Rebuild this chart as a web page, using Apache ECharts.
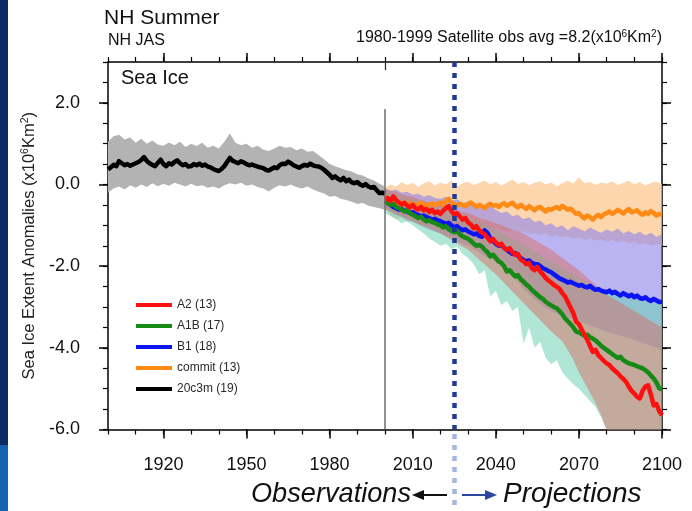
<!DOCTYPE html>
<html>
<head>
<meta charset="utf-8">
<script src="https://cdn.jsdelivr.net/npm/echarts@6/dist/echarts.min.js"></script>
<style>
  html, body { margin: 0; padding: 0; background: #fff; }
  #chart { width: 692px; height: 511px; }
</style>
</head>
<body>
<div id="chart"></div>
<script>
const FONT = 'Liberation Sans, Arial, Helvetica, sans-serif';

// Axis ticks / labels
const majorYears = [1920, 1950, 1980, 2010, 2040, 2070, 2100];
const majorAnoms = [-6, -4, -2, 0, 2];

// Legend entries
const nameA2 = 'A2 (13)';
const nameA1B = 'A1B (17)';
const nameB1 = 'B1 (18)';
const nameCommit = 'commit (13)';
const nameHist = '20c3m (19)';

// Years (annual for ensemble means, every 2 years for model spread)
function yearRange(a, b, step) { const out = []; for (let y = a; y <= b; y += step) out.push(y); return out; }
const histYears = yearRange(1900, 2000, 1);
const histBandYears = yearRange(1900, 2000, 2);
const projYears = yearRange(2000, 2100, 1);
const projBandYears = yearRange(2000, 2100, 2);

// 20th century ensemble mean (20c3m), 1900-2000
const histMean = [
  0.37, 0.42, 0.48, 0.45, 0.57, 0.52, 0.47, 0.50, 0.46, 0.49,
  0.52, 0.55, 0.60, 0.67, 0.58, 0.52, 0.48, 0.45, 0.53, 0.61,
  0.50, 0.45, 0.52, 0.49, 0.55, 0.59, 0.52, 0.47, 0.50, 0.44,
  0.45, 0.50, 0.47, 0.51, 0.46, 0.49, 0.44, 0.42, 0.38, 0.35,
  0.33, 0.38, 0.45, 0.55, 0.65, 0.58, 0.55, 0.52, 0.57, 0.54,
  0.50, 0.47, 0.49, 0.46, 0.44, 0.42, 0.40, 0.36, 0.34, 0.38,
  0.42, 0.40, 0.47, 0.51, 0.50, 0.56, 0.52, 0.47, 0.44, 0.41,
  0.45, 0.48, 0.46, 0.51, 0.47, 0.45, 0.44, 0.41, 0.36, 0.30,
  0.24, 0.16, 0.20, 0.14, 0.10, 0.16, 0.08, 0.12, 0.05, 0.03,
  0.06, 0.00, -0.03, 0.01, -0.05, -0.08, -0.06, -0.14, -0.21, -0.20,
  -0.22
];
// 20c3m model spread (every 2 years)
const histHi = [
  1.05, 1.18, 1.22, 1.10, 1.15, 1.02, 1.12, 1.00, 1.08, 0.98,
  0.95, 1.03, 0.96, 1.05, 0.92, 1.00, 0.94, 1.02, 0.90, 0.95,
  0.88, 1.05, 1.25, 1.02, 0.96, 1.00, 0.90, 0.95, 0.86, 0.82,
  0.88, 0.95, 0.90, 0.92, 0.84, 0.88, 0.80, 0.82, 0.72, 0.62,
  0.50, 0.45, 0.40, 0.35, 0.32, 0.25, 0.22, 0.15, 0.10, 0.02,
  -0.05
];
const histLo = [
  -0.20, -0.10, -0.05, -0.12, -0.02, -0.08, 0.00, -0.06, 0.03, -0.04,
  0.02, -0.03, 0.04, 0.00, -0.05, 0.02, -0.04, -0.02, -0.08, -0.05,
  -0.10, -0.02, 0.03, 0.00, 0.04, -0.03, 0.00, -0.06, -0.10, -0.17,
  -0.08, -0.02, -0.05, 0.00, -0.06, -0.10, -0.05, -0.12, -0.18, -0.22,
  -0.30, -0.28, -0.35, -0.38, -0.42, -0.48, -0.45, -0.52, -0.55, -0.58,
  -0.62
];

// Scenario ensemble means, 2000-2100
const commitMean = [
  -0.30, -0.36, -0.40, -0.38, -0.45, -0.42, -0.48, -0.44, -0.50, -0.46,
  -0.47, -0.52, -0.49, -0.45, -0.50, -0.55, -0.48, -0.46, -0.51, -0.47,
  -0.44, -0.50, -0.40, -0.35, -0.45, -0.49, -0.52, -0.47, -0.50, -0.53,
  -0.48, -0.44, -0.49, -0.55, -0.50, -0.53, -0.58, -0.51, -0.47, -0.52,
  -0.50, -0.55, -0.49, -0.46, -0.52, -0.48, -0.45, -0.52, -0.56, -0.50,
  -0.55, -0.60, -0.53, -0.58, -0.63, -0.57, -0.55, -0.61, -0.66, -0.60,
  -0.62, -0.58, -0.55, -0.60, -0.52, -0.57, -0.62, -0.59, -0.65, -0.72,
  -0.70, -0.78, -0.83, -0.76, -0.80, -0.86, -0.79, -0.74, -0.80, -0.73,
  -0.70, -0.66, -0.72, -0.68, -0.62, -0.66, -0.71, -0.65, -0.60, -0.68,
  -0.66, -0.63, -0.70, -0.74, -0.68, -0.72, -0.65, -0.70, -0.76, -0.72,
  -0.74
];
const b1Mean = [
  -0.41, -0.45, -0.50, -0.55, -0.58, -0.61, -0.60, -0.64, -0.66, -0.70,
  -0.68, -0.72, -0.75, -0.78, -0.76, -0.80, -0.83, -0.86, -0.84, -0.88,
  -0.90, -0.93, -0.96, -0.94, -1.00, -1.05, -1.02, -1.08, -1.12, -1.10,
  -1.15, -1.18, -1.22, -1.20, -1.26, -1.28, -1.12, -1.19, -1.32, -1.38,
  -1.45, -1.50, -1.48, -1.55, -1.60, -1.65, -1.70, -1.68, -1.75, -1.80,
  -1.85, -1.88, -1.86, -1.92, -1.95, -1.95, -2.00, -2.05, -2.08, -2.12,
  -2.15, -2.20, -2.25, -2.30, -2.33, -2.36, -2.40, -2.38, -2.42, -2.45,
  -2.48, -2.46, -2.50, -2.52, -2.48, -2.54, -2.58, -2.56, -2.60, -2.62,
  -2.64, -2.60, -2.66, -2.63, -2.68, -2.72, -2.66, -2.70, -2.74, -2.70,
  -2.76, -2.72, -2.78, -2.80, -2.76, -2.82, -2.85, -2.80, -2.84, -2.88,
  -2.87
];
const a1bMean = [
  -0.41, -0.45, -0.50, -0.47, -0.55, -0.58, -0.61, -0.66, -0.63, -0.70,
  -0.74, -0.78, -0.82, -0.79, -0.86, -0.90, -0.87, -0.92, -0.94, -0.98,
  -1.00, -1.05, -1.02, -1.10, -1.14, -1.17, -1.13, -1.22, -1.27, -1.30,
  -1.33, -1.38, -1.45, -1.50, -1.48, -1.52, -1.60, -1.66, -1.76, -1.72,
  -1.80, -1.88, -1.92, -2.00, -2.13, -2.10, -2.18, -2.25, -2.22, -2.32,
  -2.38, -2.45, -2.50, -2.58, -2.64, -2.70, -2.76, -2.80, -2.87, -2.92,
  -2.96, -3.00, -3.03, -3.10, -3.18, -3.28, -3.35, -3.42, -3.50, -3.60,
  -3.62, -3.66, -3.70, -3.68, -3.74, -3.77, -3.82, -3.88, -3.95, -4.00,
  -4.05, -4.10, -4.15, -4.20, -4.25, -4.22, -4.30, -4.34, -4.38, -4.40,
  -4.42, -4.45, -4.48, -4.50, -4.55, -4.60, -4.68, -4.75, -4.85, -4.99,
  -5.02
];
const a2Mean = [
  -0.37, -0.33, -0.40, -0.29, -0.38, -0.44, -0.49, -0.45, -0.52, -0.56,
  -0.50, -0.58, -0.61, -0.55, -0.63, -0.60, -0.67, -0.62, -0.70, -0.66,
  -0.72, -0.64, -0.58, -0.53, -0.65, -0.74, -0.70, -0.78, -0.86, -0.82,
  -0.93, -0.98, -1.07, -1.02, -1.12, -1.18, -1.22, -1.30, -1.39, -1.33,
  -1.42, -1.48, -1.45, -1.55, -1.60, -1.56, -1.66, -1.72, -1.70, -1.84,
  -1.88, -1.95, -1.92, -2.05, -2.10, -2.02, -2.13, -2.20, -2.29, -2.35,
  -2.40, -2.46, -2.50, -2.56, -2.66, -2.74, -2.88, -3.02, -3.15, -3.36,
  -3.42, -3.55, -3.68, -3.80, -3.95, -4.10, -4.05, -4.18, -4.25, -4.32,
  -4.38, -4.42, -4.50, -4.56, -4.62, -4.70, -4.76, -4.83, -4.95, -5.05,
  -5.12, -5.20, -5.24, -5.05, -4.95, -4.92, -5.15, -5.41, -5.38, -5.55,
  -5.65
];

// Scenario model spread (every 2 years, 2000-2100)
const commitHi = [
  -0.08, 0.00, -0.05, 0.06, -0.02, 0.04, -0.06, 0.03, 0.08, -0.03,
  0.05, 0.00, 0.09, -0.04, 0.03, 0.07, -0.02, 0.04, 0.10, 0.00,
  0.06, -0.03, 0.05, 0.12, 0.01, 0.06, -0.02, 0.04, 0.08, 0.00,
  0.05, -0.04, 0.03, 0.09, 0.02, 0.18, 0.03, 0.07, -0.01, 0.05,
  0.02, 0.08, -0.02, 0.04, 0.09, 0.00, 0.06, -0.03, 0.04, 0.07,
  0.02
];
const commitLo = [
  -0.60, -0.75, -0.85, -0.80, -0.92, -0.88, -0.98, -0.95, -1.02, -0.96,
  -1.05, -1.00, -1.08, -1.03, -1.10, -1.05, -1.12, -1.08, -1.02, -1.10,
  -1.06, -1.12, -1.15, -1.10, -1.18, -1.14, -1.22, -1.18, -1.25, -1.20,
  -1.28, -1.24, -1.30, -1.26, -1.33, -1.30, -1.36, -1.32, -1.38, -1.34,
  -1.40, -1.36, -1.42, -1.38, -1.45, -1.40, -1.47, -1.43, -1.50, -1.46,
  -1.50
];
const b1Hi = [
  -0.10, -0.15, -0.12, -0.20, -0.18, -0.25, -0.22, -0.30, -0.26, -0.33,
  -0.35, -0.30, -0.40, -0.36, -0.45, -0.42, -0.50, -0.46, -0.55, -0.52,
  -0.62, -0.70, -0.66, -0.78, -0.74, -0.85, -0.80, -0.92, -0.88, -1.00,
  -0.95, -1.05, -1.00, -1.12, -1.02, -1.08, -1.15, -1.05, -1.12, -1.18,
  -1.10, -1.16, -1.08, -1.20, -1.14, -1.22, -1.16, -1.25, -1.18, -1.28,
  -1.22
];
const b1Lo = [
  -0.60, -0.68, -0.75, -0.80, -0.88, -0.92, -0.98, -1.05, -1.10, -1.15,
  -1.20, -1.26, -1.30, -1.38, -1.45, -1.50, -1.58, -1.66, -1.75, -1.82,
  -1.90, -2.02, -2.12, -2.25, -2.38, -2.55, -2.68, -2.80, -2.92, -3.02,
  -3.10, -3.15, -3.20, -3.26, -3.30, -3.35, -3.40, -3.45, -3.50, -3.55,
  -3.60, -3.64, -3.68, -3.72, -3.76, -3.80, -3.86, -3.90, -3.95, -4.00,
  -4.05
];
const a1bHi = [
  -0.15, -0.20, -0.24, -0.28, -0.33, -0.36, -0.40, -0.44, -0.48, -0.52,
  -0.55, -0.60, -0.64, -0.70, -0.75, -0.80, -0.86, -0.92, -0.98, -1.04,
  -1.10, -1.18, -1.25, -1.32, -1.40, -1.48, -1.56, -1.64, -1.72, -1.80,
  -1.88, -1.96, -2.04, -2.12, -2.20, -2.28, -2.36, -2.44, -2.52, -2.58,
  -2.62, -2.66, -2.70, -2.74, -2.78, -2.80, -2.83, -2.86, -2.88, -2.90,
  -2.92
];
const a1bLo = [
  -0.70, -0.78, -0.85, -0.95, -0.90, -1.00, -1.10, -1.20, -1.32, -1.40,
  -1.50, -1.45, -1.58, -1.52, -1.70, -1.80, -1.95, -2.20, -2.10, -2.75,
  -2.60, -2.95, -2.85, -3.10, -3.00, -3.90, -3.50, -4.00, -3.85, -4.25,
  -4.40, -4.30, -4.60, -4.75, -4.90, -5.00, -5.15, -5.30, -5.45, -5.70,
  -6.00, -6.00, -6.00, -6.00, -6.00, -6.00, -6.00, -6.00, -6.00, -6.00,
  -6.00
];
const a2Hi = [
  -0.10, -0.15, -0.18, -0.24, -0.28, -0.30, -0.36, -0.40, -0.45, -0.48,
  -0.50, -0.55, -0.58, -0.64, -0.68, -0.70, -0.76, -0.82, -0.86, -0.90,
  -0.95, -1.00, -1.05, -1.10, -1.15, -1.20, -1.28, -1.36, -1.44, -1.52,
  -1.60, -1.70, -1.80, -1.90, -2.00, -2.10, -2.22, -2.34, -2.46, -2.58,
  -2.70, -2.78, -2.86, -2.94, -3.02, -3.10, -3.18, -3.26, -3.34, -3.42,
  -3.50
];
const a2Lo = [
  -0.60, -0.66, -0.72, -0.78, -0.84, -0.90, -0.96, -1.02, -1.08, -1.14,
  -1.20, -1.28, -1.36, -1.44, -1.52, -1.60, -1.72, -1.84, -1.96, -2.08,
  -2.20, -2.34, -2.48, -2.62, -2.76, -2.90, -3.04, -3.18, -3.32, -3.46,
  -3.60, -3.72, -3.84, -4.05, -4.30, -4.60, -4.85, -5.10, -5.35, -5.65,
  -6.00, -6.00, -6.00, -6.00, -6.00, -6.00, -6.00, -6.00, -6.00, -6.00,
  -6.00
];

const chart = echarts.init(document.getElementById('chart'), null, { renderer: 'canvas' });

// Shaded model spread: one polygon running along the upper edge and back along the lower edge
function spread(name, years, hi, lo, fill, z) {
  return {
    type: 'custom',
    name: name,
    silent: true,
    z: z,
    data: years.map((y, i) => [y, hi[i], lo[i]]),
    encode: { x: 0, y: [1, 2] },
    renderItem: function (params, api) {
      if (params.dataIndex !== 0) return null;
      const pts = [];
      for (let i = 0; i < years.length; i++) pts.push(api.coord([years[i], hi[i]]));
      for (let i = years.length - 1; i >= 0; i--) pts.push(api.coord([years[i], lo[i]]));
      return { type: 'polygon', shape: { points: pts }, style: { fill: fill } };
    }
  };
}

function meanLine(name, years, vals, color, width, z, extra) {
  return Object.assign({
    type: 'line',
    name: name,
    data: years.map((y, i) => [y, vals[i]]),
    showSymbol: false,
    symbol: 'none',
    z: z,
    itemStyle: { color: color },
    lineStyle: { color: color, width: width, join: 'round' }
  }, extra || {});
}

const black = '#000';
const axisLineStyle = { color: black, width: 1.5 };

const xBase = { type: 'value', min: 1900, max: 2100, splitLine: { show: false } };
const yBase = { type: 'value', min: -6, max: 3, splitLine: { show: false } };

// superscript style for unit strings
const supStyle = { fontSize: 10, verticalAlign: 'top', lineHeight: 10, fontFamily: FONT, fill: '#111', color: '#222' };

const option = {
  animation: false,
  backgroundColor: '#fff',
  grid: { left: 108, right: 30, top: 62, bottom: 81.5 },
  xAxis: [
    Object.assign({}, xBase, {
      position: 'bottom',
      axisLine: { show: true, onZero: false, lineStyle: axisLineStyle },
      axisTick: { show: true, customValues: majorYears, length: 9, lineStyle: { color: black, width: 1.5 } },
      axisLabel: { show: true, customValues: majorYears, margin: 27, fontSize: 18, color: '#111', fontFamily: FONT,
                   formatter: v => String(v) }
    }),
    Object.assign({}, xBase, {
      position: 'bottom', interval: 10,
      axisLine: { show: false, onZero: false },
      axisTick: { show: true, length: 5, lineStyle: { color: black, width: 1.2 } },
      axisLabel: { show: false }
    }),
    Object.assign({}, xBase, {
      position: 'top',
      axisLine: { show: true, onZero: false, lineStyle: axisLineStyle },
      axisTick: { show: true, customValues: majorYears, length: 9, lineStyle: { color: black, width: 1.5 } },
      axisLabel: { show: false }
    }),
    Object.assign({}, xBase, {
      position: 'top', interval: 10,
      axisLine: { show: false, onZero: false },
      axisTick: { show: true, length: 5, lineStyle: { color: black, width: 1.2 } },
      axisLabel: { show: false }
    })
  ],
  yAxis: [
    Object.assign({}, yBase, {
      position: 'left',
      name: 'Sea Ice Extent Anomalies (x10{sup|6}Km{sup|2})',
      nameLocation: 'middle',
      nameGap: 60,
      nameTextStyle: { fontSize: 16.5, lineHeight: 18, color: '#222', fontFamily: FONT,
                       rich: { sup: { fontSize: 10.5, lineHeight: 10, verticalAlign: 'top', color: '#222', fontFamily: FONT } } },
      axisLine: { show: true, onZero: false, lineStyle: axisLineStyle },
      axisTick: { show: true, customValues: majorAnoms, length: 9, lineStyle: { color: black, width: 1.5 } },
      axisLabel: { show: true, customValues: majorAnoms, margin: 28, fontSize: 18, color: '#111', fontFamily: FONT,
                   formatter: v => Number(v).toFixed(1) }
    }),
    Object.assign({}, yBase, {
      position: 'left', interval: 0.5,
      axisLine: { show: false, onZero: false },
      axisTick: { show: true, length: 5, lineStyle: { color: black, width: 1.2 } },
      axisLabel: { show: false }
    }),
    Object.assign({}, yBase, {
      position: 'right',
      axisLine: { show: true, onZero: false, lineStyle: axisLineStyle },
      axisTick: { show: true, customValues: majorAnoms, length: 9, lineStyle: { color: black, width: 1.5 } },
      axisLabel: { show: false }
    }),
    Object.assign({}, yBase, {
      position: 'right', interval: 0.5,
      axisLine: { show: false, onZero: false },
      axisTick: { show: true, length: 5, lineStyle: { color: black, width: 1.2 } },
      axisLabel: { show: false }
    })
  ],
  legend: {
    data: [nameA2, nameA1B, nameB1, nameCommit, nameHist],
    orient: 'vertical',
    left: 131,
    top: 293,
    icon: 'rect',
    itemWidth: 36,
    itemHeight: 4,
    itemGap: 7,
    selectedMode: false,
    textStyle: { fontSize: 12, lineHeight: 14, color: '#2a2a2a', fontFamily: FONT }
  },
  series: [
    spread('20c3m spread', histBandYears, histHi, histLo, '#b3b3b3', 1),
    spread('commit spread', projBandYears, commitHi, commitLo, 'rgba(252,196,140,0.7)', 1),
    spread('B1 spread', projBandYears, b1Hi, b1Lo, 'rgba(140,130,235,0.6)', 1),
    spread('A1B spread', projBandYears, a1bHi, a1bLo, 'rgba(110,210,180,0.55)', 1),
    spread('A2 spread', projBandYears, a2Hi, a2Lo, 'rgba(215,110,100,0.5)', 1),
    meanLine(nameHist, histYears, histMean, '#000', 4.5, 3, {
      markLine: {
        silent: true, symbol: ['none', 'none'], label: { show: false },
        data: [
          [{ coord: [2000, 1.85], lineStyle: { color: '#6e6e6e', width: 1.5, type: 'solid' } }, { coord: [2000, -6] }],
          [{ coord: [2000, 3], lineStyle: { color: '#222', width: 1.2, type: 'solid' } }, { coord: [2000, 2.8] }]
        ]
      }
    }),
    meanLine(nameCommit, projYears, commitMean, '#ff8a14', 4.5, 3),
    meanLine(nameB1, projYears, b1Mean, '#0a14f5', 4.5, 3),
    meanLine(nameA1B, projYears, a1bMean, '#168a16', 4.5, 3),
    meanLine(nameA2, projYears, a2Mean, '#ff1010', 4.5, 4, {
      markLine: {
        silent: true, symbol: ['none', 'none'], label: { show: false },
        data: [
          [{ coord: [2025, 3], lineStyle: { color: '#1f3a93', width: 4.5, type: [5, 6] } }, { coord: [2025, -6] }]
        ]
      }
    })
  ],
  graphic: [
    { type: 'rect', left: 0, top: 0, silent: true, shape: { width: 8, height: 445 }, style: { fill: '#0b2a66' } },
    { type: 'rect', left: 0, top: 445, silent: true, shape: { width: 8, height: 66 }, style: { fill: '#1463ae' } },
    { type: 'text', x: 104, y: 18, silent: true,
      style: { text: 'NH Summer', fontSize: 21, fontFamily: FONT, fill: '#111', align: 'left', verticalAlign: 'middle' } },
    { type: 'text', x: 108, y: 41, silent: true,
      style: { text: 'NH JAS', fontSize: 16, fontFamily: FONT, fill: '#111', align: 'left', verticalAlign: 'middle' } },
    { type: 'text', x: 662, y: 38, silent: true,
      style: { text: '1980-1999 Satellite obs avg =8.2(x10{sup|6}Km{sup|2})', fontSize: 16, lineHeight: 18, fontFamily: FONT,
               fill: '#111', align: 'right', verticalAlign: 'middle',
               rich: { sup: supStyle } } },
    { type: 'text', x: 121, y: 78, silent: true, z: 10,
      style: { text: 'Sea Ice', fontSize: 20, fontFamily: FONT, fill: '#111', align: 'left', verticalAlign: 'middle' } },
    // dotted divider continuing under the axis
    { type: 'line', silent: true, shape: { x1: 454.5, y1: 434, x2: 454.5, y2: 508 },
      style: { stroke: '#a3b6e2', lineWidth: 4.5, lineDash: [5, 6] } },
    { type: 'text', x: 411, y: 494, silent: true, scaleX: 0.97, originX: 0, originY: 0,
      style: { text: 'Observations', fontSize: 28, fontStyle: 'italic', fontFamily: FONT, fill: '#111', align: 'right', verticalAlign: 'middle' } },
    { type: 'line', silent: true, shape: { x1: 421, y1: 495, x2: 447, y2: 495 }, style: { stroke: '#111', lineWidth: 2 } },
    { type: 'polygon', silent: true, shape: { points: [[412, 495], [424, 490], [424, 500]] }, style: { fill: '#111' } },
    { type: 'line', silent: true, shape: { x1: 462, y1: 495, x2: 488, y2: 495 }, style: { stroke: '#2a48a0', lineWidth: 2 } },
    { type: 'polygon', silent: true, shape: { points: [[497, 495], [485, 490], [485, 500]] }, style: { fill: '#2a48a0' } },
    { type: 'text', x: 503, y: 494, silent: true,
      style: { text: 'Projections', fontSize: 28, fontStyle: 'italic', fontFamily: FONT, fill: '#111', align: 'left', verticalAlign: 'middle' } }
  ]
};

chart.setOption(option);
</script>
</body>
</html>
